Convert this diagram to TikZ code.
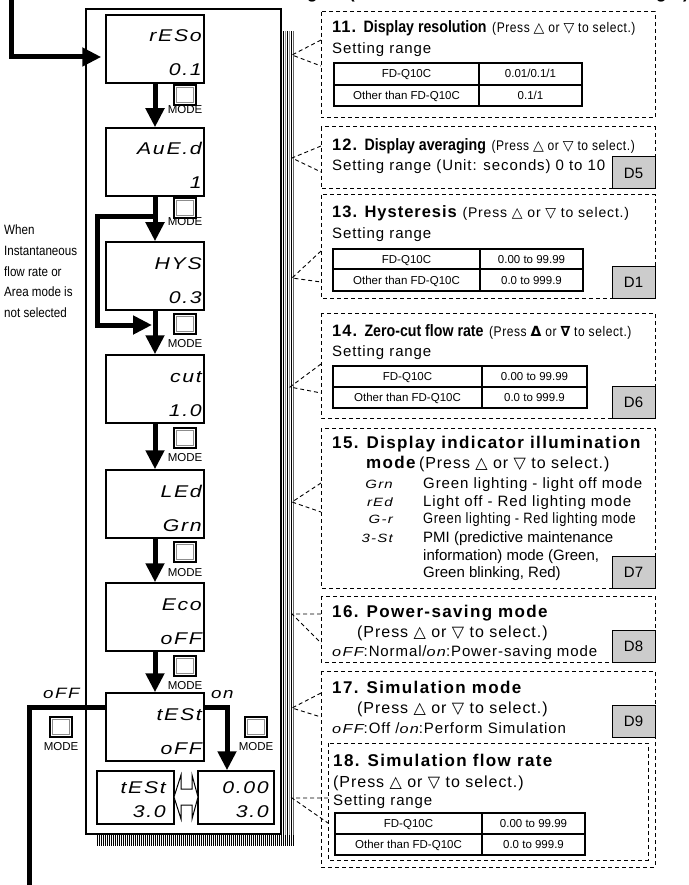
\documentclass[tikz,border=0pt]{standalone}
\usepackage{fontspec}
\setmainfont{Liberation Sans}[LetterSpace=6]
\newfontfamily\plainf{Liberation Sans}
\newfontfamily\ttlf{Liberation Sans}[LetterSpace=8]
\newfontfamily\narrowf{Liberation Sans}[FakeStretch=0.86]
\newfontfamily\narrowl{Liberation Sans}[FakeStretch=0.86,LetterSpace=4]
\newfontfamily\symf{DejaVu Sans}
\newfontfamily\lcdf{Liberation Sans}[FakeStretch=1.25,LetterSpace=10]
\usetikzlibrary{arrows.meta,calc}
\newcommand\fsz[1]{\fontsize{#1}{#1}\selectfont}
\newcommand\lcd{\lcdf\itshape}
\newcommand\tup{{\symf △}}
\newcommand\tdn{{\symf ▽}}
\newcommand\lcdbox[5]{%
  \node[lcd] (#1) at (#2,{#3+34}) {};
  \node[lcdtxt] (#1t) at ({#2+47},{#3+27}) {#4};
  \node[lcdtxt] (#1b) at ({#2+47},{#3+61}) {#5};
}
\newcommand\modebtn[4]{%
  \node[btn] (#1) at (#2,#3) {};
  \node[btnlbl] (#1l) at (#2,#4) {MODE};
}
\newcommand\rtab[9]{%
  \draw[line width=1.5pt] (#2,#3) rectangle (#6,#7) (#4,#3) -- (#4,#7) (#2,#5) -- (#6,#5);
  \node[tabtxt] (#1a) at ({(#2+#4)/2},{(#3+#5)/2+4}) {FD-Q10C};
  \node[tabtxt] (#1b) at ({(#4+#6)/2},{(#3+#5)/2+4}) {#8};
  \node[tabtxt] (#1c) at ({(#2+#4)/2},{(#5+#7)/2+4}) {Other than FD-Q10C};
  \node[tabtxt] (#1d) at ({(#4+#6)/2},{(#5+#7)/2+4}) {#9};
}
\begin{document}
\begin{tikzpicture}[x=1pt,y=-1pt,
  lcd/.style={draw,line width=1.5pt,minimum width=98pt,minimum height=68pt,inner sep=0pt,fill=white},
  lcds/.style={draw,line width=1.5pt,minimum height=53pt,inner sep=0pt,fill=white},
  lcdtxt/.style={anchor=base east,inner sep=0pt,font=\lcd\fsz{17}},
  thk/.style={line width=5pt},
  thkarrow/.style={line width=5pt,-{Triangle[width=18pt,length=19pt]}},
  btn/.style={draw,line width=2.5pt,fill=white,minimum width=22pt,minimum height=20pt,inner sep=0pt,
    path picture={\draw[black!45,line width=1pt] ([shift={(2.4pt,2.4pt)}]path picture bounding box.south west) rectangle ([shift={(-2.4pt,-2.4pt)}]path picture bounding box.north east);}},
  btnlbl/.style={inner sep=0pt,font=\plainf\fsz{11.5}},
  dbox/.style={draw,dash pattern=on 4pt off 3pt,line width=1pt},
  callout/.style={dash pattern=on 4pt off 3pt,line width=0.9pt},
  dtag/.style={draw,line width=1pt,fill=black!20,minimum width=43pt,minimum height=32pt,inner sep=0pt,font=\plainf\fsz{15}},
  txt/.style={anchor=base west,inner sep=0pt},
  tabtxt/.style={anchor=base,inner sep=0pt,font=\plainf\fsz{11.5}},
  frag/.style={anchor=base west,inner sep=0pt,font=\plainf\bfseries\fsz{17}},
  ltxt/.style={anchor=base west,inner sep=0pt,font=\narrowf\fsz{13.5}},
  lcdlbl/.style={anchor=base east,inner sep=0pt,font=\lcd\fsz{12}},
  brlbl/.style={anchor=base west,inner sep=0pt,font=\lcd\fsz{15}},
]
\useasboundingbox (0,0) rectangle (688,885);

% cut-off heading fragments
\node[frag] (fr1) at (307,-1) {g};
\node[frag] (fr2) at (349,-1) {(};
\node[frag] (fr3) at (656,-1) {g};
\node[frag] (fr4) at (683,-1) {)};

% main frame with shadow
\foreach \x/\c in {283/black,285/black!40,287/black,289/black!40,291/black,293/black!60}
  \draw[\c,line width=0.9pt] (\x,31) -- (\x,846);
\foreach \x in {97,99,...,293} \draw[line width=0.7pt] (\x,835) -- (\x,846);
\draw[line width=2.2pt,fill=white] (86,9) rectangle (281,834);

% LCD displays
\lcdbox{reso}{155}{15}{rESo}{0.1}
\lcdbox{aued}{155}{128}{AuE.d}{1}
\lcdbox{hys}{155}{242}{HYS}{0.3}
\lcdbox{cut}{155}{355}{cut}{1.0}
\lcdbox{led}{155}{470}{LEd}{Grn}
\lcdbox{eco}{155}{583}{Eco}{oFF}
\lcdbox{test}{155}{693}{tESt}{oFF}

\node[lcds,minimum width=77pt] (tb) at (135.5,797.5) {};
\node[lcdtxt] (tbt) at (166,793) {tESt};
\node[lcdtxt] (tbb) at (166,817) {3.0};
\node[lcds,minimum width=76pt] (vb) at (236,797.5) {};
\node[lcdtxt] (vbt) at (269,793) {0.00};
\node[lcdtxt] (vbb) at (269,817) {3.0};

% hollow double arrow
\draw[line width=1pt,fill=white] (174,797) -- (181,775) -- (181,789) -- (192,789) -- (192,775) -- (198,797)
  -- (192,819) -- (192,805) -- (181,805) -- (181,819) -- cycle;

% flow arrows
\draw[thkarrow] (reso.south) -- (aued.north);
\draw[thkarrow] (aued.south) -- (hys.north);
\draw[thkarrow] (hys.south) -- (cut.north);
\draw[thkarrow] (cut.south) -- (led.north);
\draw[thkarrow] (led.south) -- (eco.north);
\draw[thkarrow] (eco.south) -- (test.north);

\coordinate (bpA) at (157,217);
\coordinate (bpB) at (97,217);
\coordinate (bpC) at (97,325);
\coordinate (bpD) at (152,325);
\draw[thkarrow] (bpA) -- (bpB) -- (bpC) -- (bpD);

\coordinate (tpA) at (11,-5);
\coordinate (tpB) at (11,57);
\draw[thkarrow,shorten >=4pt] (tpA) -- (tpB) -- (reso.west |- tpB);

\coordinate (onB) at (227,707);
\draw[thkarrow] (test.east |- onB) -- (onB) -- (onB |- vb.north);
\coordinate (offB) at (29,707);
\coordinate (offC) at (29,890);
\draw[thk] (test.west |- offB) -- (offB) -- (offC);

\node[brlbl] (offlbl) at (43,698) {oFF};
\node[brlbl] (onlbl) at (211,698) {on};

% MODE buttons
\modebtn{m1}{185}{95}{110}
\modebtn{m2}{185}{208}{222}
\modebtn{m3}{185}{324}{344}
\modebtn{m4}{185}{438}{458}
\modebtn{m5}{185}{552}{573}
\modebtn{m6}{185}{666}{686}
\modebtn{mL}{61}{727}{747}
\modebtn{mR}{256}{727}{747}

% left note
\node[ltxt] (n1) at (4,235) {When};
\node[ltxt] (n2) at (4,255.5) {Instantaneous};
\node[ltxt] (n3) at (4,276) {flow rate or};
\node[ltxt] (n4) at (4,296.5) {Area mode is};
\node[ltxt] (n5) at (4,317) {not selected};

% dashed description boxes
\draw[dbox] (321,12) rectangle (655,118);
\draw[dbox] (321,127) rectangle (655,189);
\draw[dbox] (321,195) rectangle (655,298);
\draw[dbox] (321,313) rectangle (655,418);
\draw[dbox] (321,428) rectangle (655,588);
\draw[dbox] (321,596) rectangle (655,662);
\draw[dbox] (321,671) rectangle (655,867);
\draw[dbox] (328,743) rectangle (648,860);

% callouts
\coordinate (a11) at (292,55);  \coordinate (e11a) at (321,40);  \coordinate (e11b) at (321,66);
\coordinate (a12) at (292,158); \coordinate (e12a) at (321,146); \coordinate (e12b) at (321,172);
\coordinate (a13) at (292,278); \coordinate (e13a) at (321,251); \coordinate (e13b) at (321,282);
\coordinate (a14) at (290,387); \coordinate (e14a) at (321,364); \coordinate (e14b) at (321,393);
\coordinate (a15) at (292,502); \coordinate (e15a) at (321,483); \coordinate (e15b) at (321,512);
\coordinate (a16) at (292,614); \coordinate (e16a) at (321,614); \coordinate (e16b) at (321,643);
\coordinate (a17) at (292,708); \coordinate (e17a) at (321,693); \coordinate (e17b) at (321,717);
\coordinate (a18) at (292,798); \coordinate (e18a) at (328,798); \coordinate (e18b) at (328,823);
\foreach \n in {11,...,18} \draw[callout] (e\n a) -- (a\n) -- (e\n b);

% D tags
\node[dtag] (d5) at (633.5,173) {D5};
\node[dtag] (d1) at (633.5,282.5) {D1};
\node[dtag] (d6) at (633.5,402) {D6};
\node[dtag] (d7) at (633.5,572) {D7};
\node[dtag] (d8) at (633.5,646) {D8};
\node[dtag] (d9) at (633.5,721) {D9};

% 11
\node[txt] (t11) at (332,33) {\fsz{16.5}\bfseries 11. {\narrowf Display resolution} {\narrowl\mdseries\fsz{14}(Press \tup{} or \tdn{} to select.)}};
\node[txt] (s11) at (332,54) {\fsz{15}Setting range};
\rtab{tb11}{334}{63}{479}{85}{582}{106}{0.01/0.1/1}{0.1/1}
% 12
\node[txt] (t12) at (332,151) {\fsz{16.5}\bfseries 12. {\narrowf Display averaging} {\narrowl\mdseries\fsz{14}(Press \tup{} or \tdn{} to select.)}};
\node[txt] (s12) at (332,171) {\fsz{15}Setting range (Unit: seconds) 0 to 10};
% 13
\node[txt] (t13) at (332,218) {\fsz{16.5}\bfseries 13. Hysteresis {\mdseries\fsz{14}(Press \tup{} or \tdn{} to select.)}};
\node[txt] (s13) at (332,239) {\fsz{15}Setting range};
\rtab{tb13}{333}{249}{480}{269}{583}{291}{0.00 to 99.99}{0.0 to 999.9}
% 14
\node[txt] (t14) at (332,336) {\fsz{16.5}\bfseries 14. {\narrowf Zero-cut flow rate} {\narrowl\mdseries\fsz{14}(Press {\symf\bfseries Δ} or {\symf\bfseries ∇} to select.)}};
\node[txt] (s14) at (332,356) {\fsz{15}Setting range};
\rtab{tb14}{333}{366}{482}{387}{587}{408}{0.00 to 99.99}{0.0 to 999.9}
% 15
\node[txt] (t15) at (332,448) {\ttlf\fsz{17}\bfseries 15. Display indicator illumination};
\node[txt] (m15) at (366,468) {{\ttlf\fsz{17}\bfseries mode} {\fsz{16}(Press \tup{} or \tdn{} to select.)}};
\node[lcdlbl] (g1) at (393,488) {Grn};
\node[lcdlbl] (g2) at (393,506) {rEd};
\node[lcdlbl] (g3) at (393,523) {G-r};
\node[lcdlbl] (g4) at (393,542) {3-St};
\node[txt] (r1) at (423,488) {\fsz{15}Green lighting - light off mode};
\node[txt] (r2) at (423,506) {\fsz{15}Light off - Red lighting mode};
\node[txt] (r3) at (423,523) {\narrowl\fsz{15}Green lighting - Red lighting mode};
\node[txt] (r4) at (423,542) {\plainf\fsz{15}PMI (predictive maintenance};
\node[txt] (r5) at (423,560) {\plainf\fsz{15}information) mode (Green,};
\node[txt] (r6) at (423,577) {\plainf\fsz{15}Green blinking, Red)};
% 16
\node[txt] (t16) at (332,617) {\ttlf\fsz{17}\bfseries 16. Power-saving mode};
\node[txt] (p16) at (357,637) {\fsz{16}(Press \tup{} or \tdn{} to select.)};
\node[txt] (o16) at (332,656) {\fsz{15}{\lcd\fsz{13}oFF}:Normal/{\lcd\fsz{13}on}:Power-saving mode};
% 17
\node[txt] (t17) at (332,693) {\ttlf\fsz{17}\bfseries 17. Simulation mode};
\node[txt] (p17) at (357,713) {\fsz{16}(Press \tup{} or \tdn{} to select.)};
\node[txt] (o17) at (332,733) {\fsz{15}{\lcd\fsz{13}oFF}:Off /{\lcd\fsz{13}on}:Perform Simulation};
% 18
\node[txt] (t18) at (333,766) {\ttlf\fsz{17}\bfseries 18. Simulation flow rate};
\node[txt] (p18) at (333,787) {\fsz{16}(Press \tup{} or \tdn{} to select.)};
\node[txt] (s18) at (333,805) {\fsz{15}Setting range};
\rtab{tb18}{335}{813}{482}{834}{585}{855}{0.00 to 99.99}{0.0 to 999.9}
\end{tikzpicture}
\end{document}
